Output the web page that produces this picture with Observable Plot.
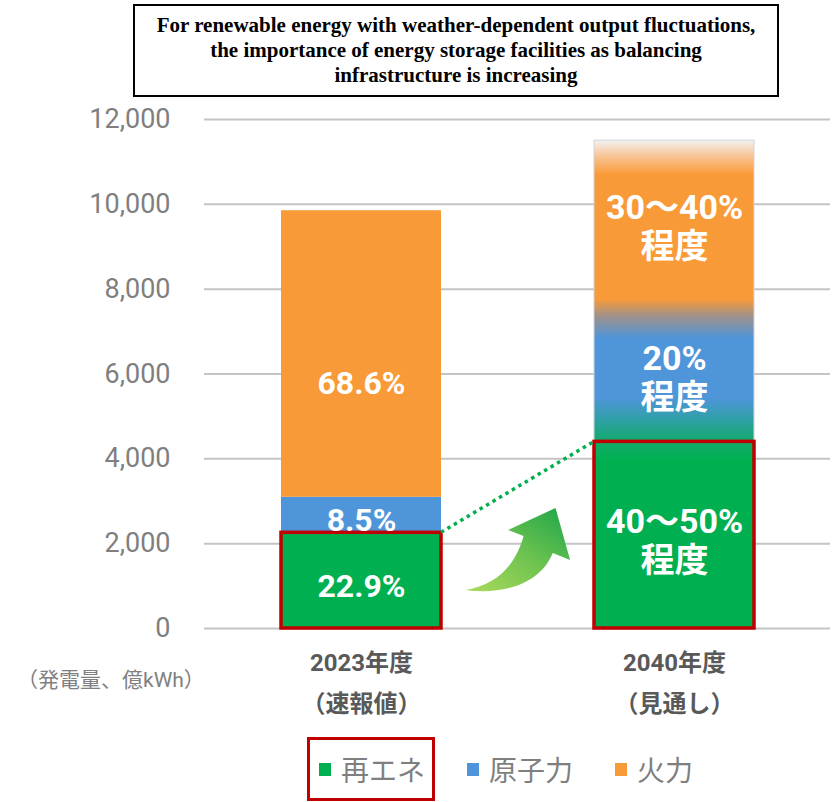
<!DOCTYPE html>
<html>
<head>
<meta charset="utf-8">
<script src="https://cdn.jsdelivr.net/npm/d3@7"></script>
<script src="https://cdn.jsdelivr.net/npm/@observablehq/plot@0.6"></script>
<style>
  html, body { margin: 0; padding: 0; background: #fff; }
  #wrap { position: relative; width: 839px; height: 802px; overflow: hidden; }
  #title {
    position: absolute; left: 133px; top: 4px; width: 646px; height: 93px;
    box-sizing: border-box; border: 2px solid #000;
    display: flex; flex-direction: column; justify-content: center; align-items: center;
    font-family: "Liberation Serif", "Times New Roman", serif; font-weight: bold;
    font-size: 21px; line-height: 25px; color: #000; text-align: center;
  }
  #chart { position: absolute; left: 0; top: 100px; }
  #unit {
    position: absolute; left: 17px; top: 663px;
    font-family: Roboto, "Noto Sans CJK JP", sans-serif; font-size: 21px; color: #808080;
    white-space: nowrap;
  }
  #legend { position: absolute; left: 307px; top: 737px; height: 64px; display: flex; align-items: center; }
  .item { display: flex; align-items: center; font-family: "Noto Sans CJK JP", sans-serif; font-size: 28px; color: #7f7f7f; }
  .sw { width: 12px; height: 13px; margin-right: 10px; }
  .item.hl { box-sizing: border-box; height: 64px; border: 3px solid #c00000; padding: 0 7px 0 9px; margin-right: 32px; }
  .item.mid { margin-right: 42px; }
</style>
</head>
<body>
<div id="wrap">
  <div id="title"></div>
  <div id="chart"></div>
  <div id="unit"></div>
  <div id="legend"></div>
</div>
<script>
const titleLines = [
  "For renewable energy with weather-dependent output fluctuations,",
  "the importance of energy storage facilities as balancing",
  "infrastructure is increasing"
];
const years = ["2023", "2040"];
const xLabels = ["2023年度\n（速報値）", "2040年度\n（見通し）"];
const sources = ["再エネ", "原子力", "火力"];
const colors = ["#00b050", "#4f95d9", "#f99a38"];
const values2023 = [2256, 837, 6757];
const values2040 = [4400, 3300, 3800];
const labels2023 = ["22.9%", "8.5%", "68.6%"];
const labels2040 = ["40～50%\n程度", "20%\n程度", "30～40%\n程度"];
const yTicks = [0, 2000, 4000, 6000, 8000, 10000, 12000];
const unitLabel = "（発電量、億kWh）";

document.getElementById("title").innerHTML = titleLines.map(t => `<div>${t}</div>`).join("");
document.getElementById("unit").textContent = unitLabel;

const rows2023 = sources.map((s, i) => ({year: "2023", source: s, value: values2023[i], label: labels2023[i]}));
const rows2040 = sources.map((s, i) => ({year: "2040", source: s, value: values2040[i], label: labels2040[i]}));
const total2040 = [{year: "2040", total: d3.sum(values2040)}];
const green = [rows2023[0], rows2040[0]];

function bandwidthOf(s) { return typeof s.bandwidth === "function" ? s.bandwidth() : s.bandwidth; }

// dotted connector between tops of renewable segments
function connector(index, scales) {
  const x = scales.x, y = scales.y, bw = bandwidthOf(x);
  const g = d3.create("svg:g");
  g.append("line")
    .attr("x1", x(years[0]) + bw).attr("y1", y(values2023[0]))
    .attr("x2", x(years[1])).attr("y2", y(values2040[0]))
    .attr("stroke", "#00b050").attr("stroke-width", 3.5).attr("stroke-dasharray", "3.5 4");
  return g.node();
}

// curved growth arrow in the gap between the bars
function growthArrow(index, scales) {
  const x = scales.x, y = scales.y, bw = bandwidthOf(x);
  const gx0 = x(years[0]) + bw, gx1 = x(years[1]);
  const X0 = gx0 + 0.16 * (gx1 - gx0), X1 = gx0 + 0.85 * (gx1 - gx0);
  const Y0 = y(2830), Y1 = y(780);
  const P = (u, v) => `${X0 + u * (X1 - X0)},${Y0 + v * (Y1 - Y0)}`;
  const d = `M${P(0, 0.943)} C${P(0.294, 0.885)} ${P(0.477, 0.655)} ${P(0.55, 0.322)} L${P(0.404, 0.253)} L${P(0.853, 0)} L${P(0.991, 0.598)} L${P(0.826, 0.517)} C${P(0.706, 0.885)} ${P(0.339, 1.0)} ${P(0, 0.943)} Z`;
  const g = d3.create("svg:g");
  g.append("path").attr("d", d).attr("fill", "url(#arrowGrad)");
  return g.node();
}

const plot = Plot.plot({
  width: 839,
  height: 630,
  marginLeft: 204,
  marginRight: 9,
  marginTop: 19,
  marginBottom: 102,
  style: {fontFamily: "Roboto, 'Noto Sans CJK JP', sans-serif", overflow: "visible", background: "#fff"},
  x: {domain: years, paddingInner: 0.49, paddingOuter: 0.245, label: null},
  y: {domain: [0, 12000], label: null},
  color: {domain: sources, range: colors},
  marks: [
    Plot.gridY(yTicks, {stroke: "#c4c4c4", strokeOpacity: 1, strokeWidth: 2}),
    Plot.barY(rows2023, {x: "year", y: "value", fill: "source"}),
    Plot.barY(total2040, {x: "year", y: "total", fill: "url(#grad2040)", stroke: "#d4d4d4", strokeWidth: 1}),
    Plot.barY(green, {x: "year", y: "value", fill: "none", stroke: "#c00000", strokeWidth: 3.5}),
    Plot.text(rows2023, Plot.stackY({x: "year", y: "value", text: d => d.source === sources[2] ? null : d.label, fill: "white", fontSize: 32, fontWeight: "bold", dy: 6})),
    Plot.text(rows2023, Plot.stackY({x: "year", y: "value", text: d => d.source === sources[2] ? d.label : null, fill: "white", fontSize: 32, fontWeight: "bold", dy: 30})),
    Plot.text(rows2040, Plot.stackY({x: "year", y: "value", text: "label", fill: "white", fontSize: 34, fontWeight: "bold", lineHeight: 1.15, dy: 5})),
    connector,
    growthArrow,
    Plot.axisY(yTicks, {tickSize: 0, tickPadding: 34, fontSize: 27, fill: "#7f7f7f", tickFormat: d3.format(",")}),
    Plot.axisX({tickSize: 0, tickPadding: 14, fontSize: 24, fontWeight: "bold", fill: "#595959", lineHeight: 1.7,
      tickFormat: d => xLabels[years.indexOf(d)]})
  ]
});

// gradient definitions (stops derived from 2040 stack boundaries)
const tot = d3.sum(values2040);
const bOB = (tot - (values2040[0] + values2040[1])) / tot; // orange/blue boundary offset from top
const bBG = (tot - values2040[0]) / tot;                    // blue/green boundary offset from top
const svg = d3.select(plot);
const defs = svg.insert("defs", ":first-child");
const g40 = defs.append("linearGradient").attr("id", "grad2040").attr("x1", 0).attr("y1", 0).attr("x2", 0).attr("y2", 1);
[
  [0, "#f2f2f2"], [0.03, "#f8c89c"], [0.07, colors[2]],
  [bOB - 0.005, colors[2]], [bOB + 0.03, "#a0918a"], [bOB + 0.075, colors[1]],
  [bBG - 0.09, colors[1]], [bBG - 0.045, "#2fa0a8"], [bBG, "#12aa6a"], [bBG + 0.04, colors[0]], [1, colors[0]]
].forEach(([o, c]) => g40.append("stop").attr("offset", Math.max(0, Math.min(1, o))).attr("stop-color", c));
const ag = defs.append("linearGradient").attr("id", "arrowGrad").attr("x1", 0.1).attr("y1", 1).attr("x2", 0.9).attr("y2", 0);
ag.append("stop").attr("offset", 0).attr("stop-color", "#a6d85a");
ag.append("stop").attr("offset", 0.5).attr("stop-color", "#6cc24f");
ag.append("stop").attr("offset", 1).attr("stop-color", "#22a84a");

document.getElementById("chart").appendChild(plot);

// legend
const legend = document.getElementById("legend");
sources.forEach((s, i) => {
  const it = document.createElement("div");
  it.className = "item" + (i === 0 ? " hl" : i === 1 ? " mid" : "");
  it.innerHTML = `<span class="sw" style="background:${colors[i]}"></span><span>${s}</span>`;
  legend.appendChild(it);
});
</script>
</body>
</html>
